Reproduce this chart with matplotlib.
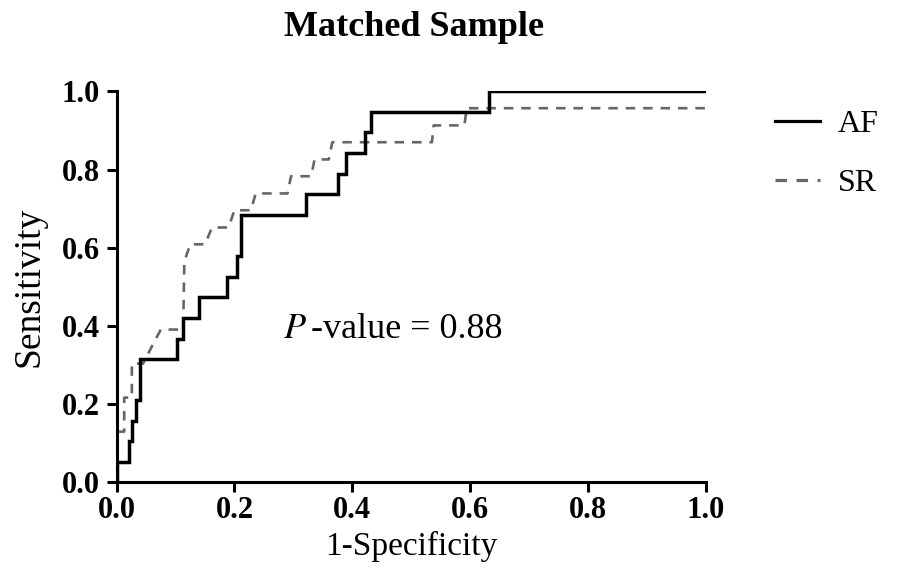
import matplotlib
matplotlib.use("Agg")
import matplotlib.pyplot as plt

# ROC curve points (1-Specificity, Sensitivity)
af_fpr = [0.0, 0.0, 0.021, 0.021, 0.027, 0.027, 0.033, 0.033, 0.040, 0.040,
          0.102, 0.102, 0.113, 0.113, 0.140, 0.140, 0.187, 0.187, 0.204, 0.204,
          0.211, 0.211, 0.321, 0.321, 0.375, 0.375, 0.389, 0.389, 0.421, 0.421,
          0.431, 0.431, 0.631, 0.631, 1.0]
af_tpr = [0.0, 0.053, 0.053, 0.105, 0.105, 0.158, 0.158, 0.211, 0.211, 0.316,
          0.316, 0.368, 0.368, 0.421, 0.421, 0.474, 0.474, 0.526, 0.526, 0.579,
          0.579, 0.684, 0.684, 0.737, 0.737, 0.789, 0.789, 0.842, 0.842, 0.895,
          0.895, 0.947, 0.947, 1.0, 1.0]

sr_fpr = [0.0, 0.0, 0.013, 0.013, 0.026, 0.026, 0.045, 0.060, 0.075, 0.113,
          0.115, 0.125, 0.150, 0.162, 0.190, 0.200, 0.228, 0.236, 0.290, 0.296,
          0.330, 0.336, 0.360, 0.366, 0.535, 0.538, 0.590, 0.594, 1.0]
sr_tpr = [0.0, 0.130, 0.130, 0.217, 0.217, 0.304, 0.304, 0.348, 0.391, 0.391,
          0.565, 0.609, 0.609, 0.652, 0.652, 0.696, 0.696, 0.739, 0.739, 0.783,
          0.783, 0.826, 0.826, 0.870, 0.870, 0.913, 0.913, 0.957, 0.957]

x_ticks = [0.0, 0.2, 0.4, 0.6, 0.8, 1.0]
y_ticks = [0.0, 0.2, 0.4, 0.6, 0.8, 1.0]
tick_labels = ["0.0", "0.2", "0.4", "0.6", "0.8", "1.0"]

plt.rcParams['font.family'] = ['Liberation Serif', 'DejaVu Serif']

fig = plt.figure(figsize=(9.19, 5.82), dpi=100)
ax = fig.add_axes([0.1268, 0.171, 0.6415, 0.672])

ax.plot(af_fpr, af_tpr, color='black', lw=2.5, solid_joinstyle='miter',
        label='AF', zorder=3)
ax.plot(sr_fpr, sr_tpr, color='#666666', lw=1.9, linestyle=(0, (3.6, 3.0)),
        label='SR', zorder=2)

ax.set_xlim(0, 1.0)
ax.set_ylim(0, 1.0)
ax.set_xticks(x_ticks)
ax.set_yticks(y_ticks)
ax.set_xticklabels(tick_labels, fontsize=22, fontweight='bold')
ax.set_yticklabels(tick_labels, fontsize=22, fontweight='bold')
ax.tick_params(direction='out', length=7, width=2.2)
ax.tick_params(axis='x', pad=3)
ax.tick_params(axis='y', pad=5)

for s in ['top', 'right']:
    ax.spines[s].set_visible(False)
for s in ['left', 'bottom']:
    ax.spines[s].set_linewidth(2.2)

ax.set_xlabel('1-Specificity', fontsize=24, labelpad=4)
ax.set_ylabel('Sensitivity', fontsize=27)
ax.yaxis.set_label_coords(-0.118, 0.5)
fig.text(0.451, 1 - 28 / 582, 'Matched Sample', fontsize=26,
         fontweight='bold', ha='center', va='center')

ax.text(0.282, 0.39, r'$P$', fontsize=26, va='center', ha='left',
        math_fontfamily='stix')
ax.text(0.330, 0.39, '-value = 0.88', fontsize=26, va='center', ha='left')

leg = ax.legend(loc='upper left', bbox_to_anchor=(0.8433, 0.811),
                bbox_transform=fig.transFigure, frameon=False, fontsize=23,
                handlelength=1.4, handletextpad=0.56, labelspacing=0.91,
                borderaxespad=0, borderpad=0)
for line in leg.get_lines():
    line.set_linewidth(2.3)

fig.savefig('out.png', dpi=100)
